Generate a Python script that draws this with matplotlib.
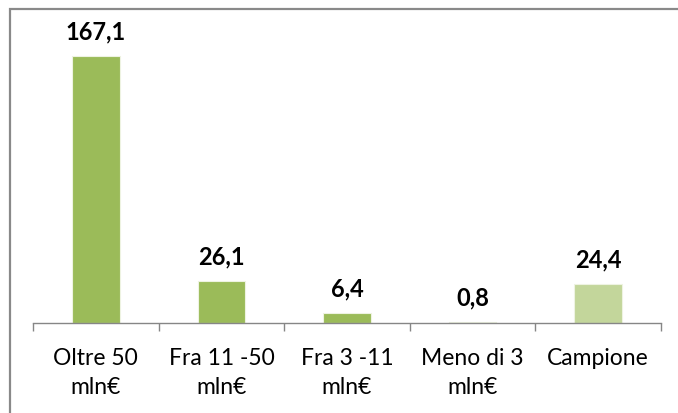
import matplotlib
matplotlib.use("Agg")
import matplotlib.pyplot as plt
from matplotlib.patches import Rectangle

categories = ["Oltre 50\nmln€", "Fra 11 -50\nmln€", "Fra 3 -11\nmln€", "Meno di 3\nmln€", "Campione"]
values = [167.1, 26.1, 6.4, 0.8, 24.4]
value_labels = ["167,1", "26,1", "6,4", "0,8", "24,4"]
colors = ["#9BBB59", "#9BBB59", "#9BBB59", "#9BBB59", "#C3D69B"]

plt.rcParams["font.family"] = ["Lato", "DejaVu Sans"]

W, H = 678, 414
fig = plt.figure(figsize=(W / 100, H / 100), dpi=100)
fig.patch.set_facecolor("white")

# plot area in pixel coordinates
x0, x1 = 33, 661
y_top, y_axis = 10, 324
ax = fig.add_axes([x0 / W, (H - y_axis) / H, (x1 - x0) / W, (y_axis - y_top) / H])

xs = list(range(len(categories)))
ax.bar(xs, values, width=0.38, color=colors, edgecolor="#EEF3E2", linewidth=0.8, zorder=2)

for x, v, lab in zip(xs, values, value_labels):
    ax.annotate(lab, (x, v), xytext=(0, 18), textcoords="offset points",
                ha="center", va="center", fontsize=17, fontweight="bold", color="black")

ax.set_xlim(-0.5, len(categories) - 0.5)
ax.set_ylim(0, (y_axis - y_top) / 1.598)

for s in ["top", "right", "left"]:
    ax.spines[s].set_visible(False)
ax.spines["bottom"].set_color("#868686")
ax.spines["bottom"].set_linewidth(1.0)
ax.set_yticks([])

# category boundary ticks on the axis, labels at category centres
ax.set_xticks([i - 0.5 for i in range(len(categories) + 1)])
ax.set_xticklabels([])
ax.tick_params(axis="x", which="major", length=5.8, width=1.0, color="#868686", direction="out")
ax.set_xticks(xs, minor=True)
ax.set_xticklabels(categories, minor=True, fontsize=16.5, linespacing=1.5)
ax.tick_params(axis="x", which="minor", length=0, pad=17)

# chart frame
fig.patches.append(Rectangle((10 / W, -0.2), 1.2, (H - 10) / H + 0.2, transform=fig.transFigure,
                             fill=False, edgecolor="#898989", linewidth=1.6))

fig.savefig("out.png", dpi=100)
